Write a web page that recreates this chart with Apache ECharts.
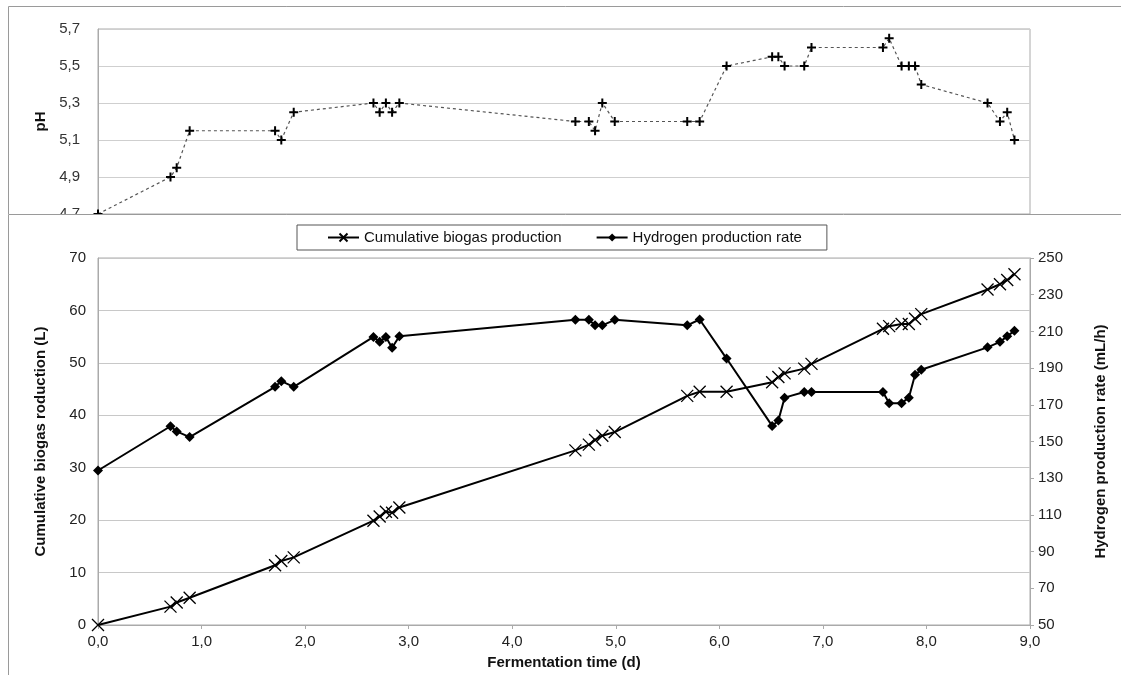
<!DOCTYPE html>
<html>
<head>
<meta charset="utf-8">
<script src="https://cdn.jsdelivr.net/npm/echarts@6/dist/echarts.min.js"></script>
<style>
  html, body { margin:0; padding:0; background:#fff; }
  #topWrap { position:absolute; left:0; top:0; width:1121px; height:214px; overflow:hidden; }
  #topChart { width:1121px; height:300px; }
  #bot { position:absolute; left:0; top:214px; width:1121px; height:461px; background:#fff; }
</style>
</head>
<body>
<div id="topWrap"><div id="topChart"></div></div>
<div id="bot"></div>
<script>
// Fermentation time (d)
const times = [0, 0.70, 0.76, 0.885, 1.71, 1.77, 1.89, 2.66, 2.72, 2.78, 2.84, 2.91,
  4.61, 4.74, 4.80, 4.87, 4.99, 5.69, 5.81, 6.07, 6.51, 6.57, 6.63, 6.82, 6.89,
  7.58, 7.64, 7.76, 7.83, 7.89, 7.95, 8.59, 8.71, 8.78, 8.85];
// Cumulative biogas production (L)
const cumulativeBiogas = [0, 3.5, 4.3, 5.2, 11.4, 12.2, 12.9, 19.9, 20.7, 21.6, 21.4, 22.4,
  33.3, 34.4, 35.3, 36.1, 36.8, 43.7, 44.5, 44.5, 46.3, 47.3, 48.0, 48.9, 49.8,
  56.5, 57.0, 57.4, 57.4, 58.4, 59.3, 64.0, 65.0, 65.8, 66.9];
// Hydrogen production rate (mL/h)
const hydrogenRate = [134.2, 158.3, 155.5, 152.4, 179.8, 182.9, 179.8, 207.0, 204.3, 207.0, 201.1, 207.4,
  216.3, 216.3, 213.3, 213.3, 216.3, 213.3, 216.5, 195.2, 158.5, 161.5, 173.9, 177.0, 177.0,
  177.0, 170.9, 170.9, 173.9, 186.4, 189.1, 201.3, 204.3, 207.4, 210.3];
// pH
const phValues = [4.70, 4.90, 4.95, 5.15, 5.15, 5.10, 5.25, 5.30, 5.25, 5.30, 5.25, 5.30,
  5.20, 5.20, 5.15, 5.30, 5.20, 5.20, 5.20, 5.50, 5.55, 5.55, 5.50, 5.50, 5.60,
  5.60, 5.65, 5.50, 5.50, 5.50, 5.40, 5.30, 5.20, 5.25, 5.10];

const xAxisRange = { min: 0, max: 9, interval: 1 };
const leftAxisRange = { min: 0, max: 70, interval: 10 };
const rightAxisRange = { min: 50, max: 250, interval: 20 };
const phAxisRange = { min: 4.7, max: 5.7, interval: 0.2 };

const FONT = "'Liberation Sans', Arial, sans-serif";
const comma = v => v.toFixed(1).replace('.', ',');
const pair = arr => times.map((t, i) => [t, arr[i]]);

const X_SYM = 'path://M0,0L10,10M10,0L0,10';
const PLUS_SYM = 'path://M5,0L5,10M0,5L10,5';

// ---------- top pH chart ----------
const phChart = echarts.init(document.getElementById('topChart'), null, { renderer: 'canvas' });
phChart.setOption({
  animation: false,
  textStyle: { fontFamily: FONT },
  graphic: [{
    type: 'rect', shape: { x: 8.5, y: 6.5, width: 1200, height: 400 },
    style: { fill: 'none', stroke: '#9a9a9a', lineWidth: 1 }, silent: true
  }],
  grid: { left: 98, top: 29, width: 932, height: 185, show: true, borderColor: '#aaa', borderWidth: 1 },
  xAxis: { type: 'value', min: xAxisRange.min, max: xAxisRange.max, interval: xAxisRange.interval, show: false },
  yAxis: {
    type: 'value', min: phAxisRange.min, max: phAxisRange.max, interval: phAxisRange.interval,
    name: 'pH', nameLocation: 'middle', nameGap: 49,
    nameTextStyle: { fontWeight: 'bold', fontSize: 15, color: '#111', fontFamily: FONT },
    axisLine: { show: true, lineStyle: { color: '#aaa' } },
    axisTick: { show: false },
    axisLabel: { formatter: v => comma(v), fontSize: 15, color: '#333', margin: 18, fontFamily: FONT },
    splitLine: { show: true, lineStyle: { color: '#cfcfcf', width: 1 } }
  },
  series: [{
    type: 'line', data: pair(phValues),
    symbol: PLUS_SYM, symbolSize: 9,
    itemStyle: { color: '#000', borderColor: '#000', borderWidth: 2 },
    lineStyle: { color: '#555', width: 1.2, type: [3, 3] },
    clip: false
  }]
});

// ---------- bottom chart ----------
const mainChart = echarts.init(document.getElementById('bot'), null, { renderer: 'canvas' });
mainChart.setOption({
  animation: false,
  textStyle: { fontFamily: FONT },
  graphic: [{
    type: 'rect', shape: { x: 8.5, y: 0.5, width: 1200, height: 600 },
    style: { fill: 'none', stroke: '#9a9a9a', lineWidth: 1 }, silent: true
  }],
  legend: {
    left: 297, top: 11,
    padding: [5, 25, 5, 30], itemGap: 34, itemWidth: 31, itemHeight: 10,
    borderColor: '#555', borderWidth: 1,
    textStyle: { fontSize: 15, color: '#111', fontFamily: FONT },
    data: ['Cumulative biogas production', 'Hydrogen production rate']
  },
  grid: { left: 98, top: 44, width: 932, height: 373, show: true, borderColor: '#aaa', borderWidth: 1 },
  xAxis: {
    type: 'value', min: xAxisRange.min, max: xAxisRange.max, interval: xAxisRange.interval,
    name: 'Fermentation time (d)', nameLocation: 'middle', nameGap: 30,
    nameTextStyle: { fontWeight: 'bold', fontSize: 15, color: '#111', fontFamily: FONT },
    axisLine: { show: true, lineStyle: { color: '#aaa' } },
    axisTick: { show: true, length: 4, lineStyle: { color: '#aaa' } },
    axisLabel: { formatter: v => comma(v), fontSize: 15, color: '#222', margin: 9, fontFamily: FONT },
    splitLine: { show: false }
  },
  yAxis: [{
    type: 'value', min: leftAxisRange.min, max: leftAxisRange.max, interval: leftAxisRange.interval,
    name: 'Cumulative biogas roduction (L)', nameLocation: 'middle', nameGap: 50,
    nameTextStyle: { fontWeight: 'bold', fontSize: 15, color: '#111', fontFamily: FONT },
    axisLine: { show: true, lineStyle: { color: '#aaa' } },
    axisTick: { show: false },
    axisLabel: { fontSize: 15, color: '#222', margin: 12, fontFamily: FONT },
    splitLine: { show: true, lineStyle: { color: '#c8c8c8', width: 1 } }
  }, {
    type: 'value', position: 'right', min: rightAxisRange.min, max: rightAxisRange.max, interval: rightAxisRange.interval,
    name: 'Hydrogen production rate (mL/h)', nameLocation: 'middle', nameGap: 63, nameRotate: 90,
    nameTextStyle: { fontWeight: 'bold', fontSize: 15, color: '#111', fontFamily: FONT },
    axisLine: { show: true, lineStyle: { color: '#aaa' } },
    axisTick: { show: true, length: 4, lineStyle: { color: '#aaa' } },
    axisLabel: { fontSize: 15, color: '#222', margin: 8, fontFamily: FONT },
    splitLine: { show: false }
  }],
  series: [{
    name: 'Cumulative biogas production',
    type: 'line', yAxisIndex: 0, data: pair(cumulativeBiogas),
    symbol: X_SYM, symbolSize: 12,
    itemStyle: { color: '#000', borderColor: '#000', borderWidth: 1.3 },
    lineStyle: { color: '#000', width: 2 },
    z: 3
  }, {
    name: 'Hydrogen production rate',
    type: 'line', yAxisIndex: 1, data: pair(hydrogenRate),
    symbol: 'diamond', symbolSize: 10,
    itemStyle: { color: '#000', borderColor: '#000', borderWidth: 0 },
    lineStyle: { color: '#000', width: 2 },
    z: 3
  }]
});
</script>
</body>
</html>
